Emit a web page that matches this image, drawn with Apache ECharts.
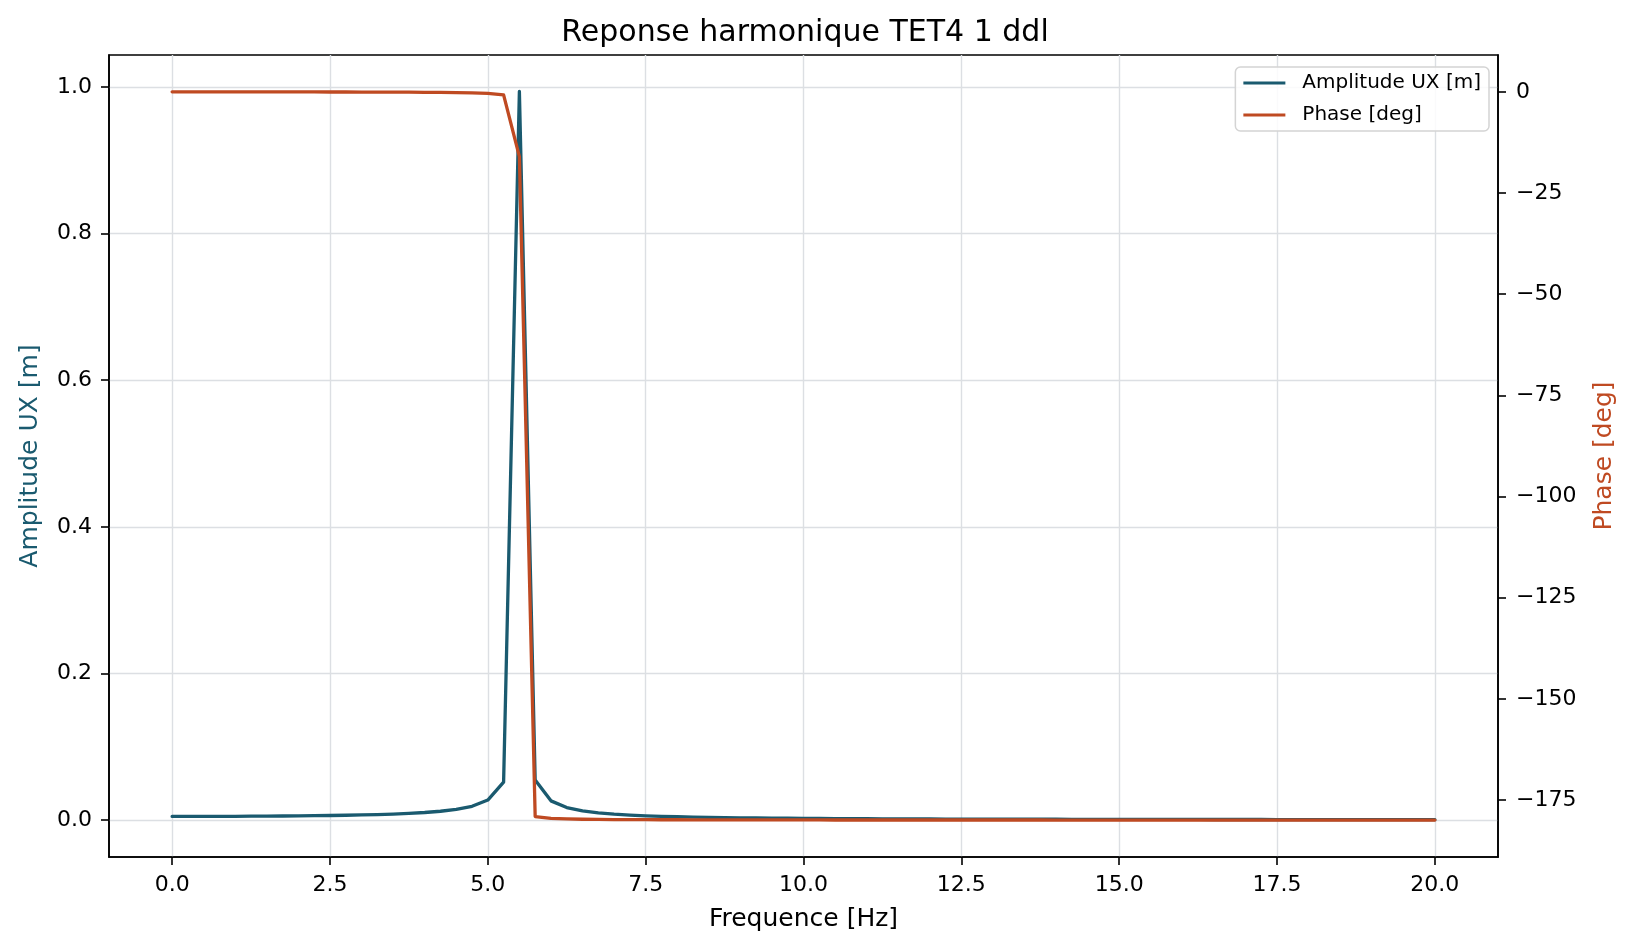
<!DOCTYPE html>
<html>
<head>
<meta charset="utf-8">
<script src="https://cdn.jsdelivr.net/npm/echarts@6/dist/echarts.min.js"></script>
<style>
  body, html {
    margin: 0;
    padding: 0;
    background: #ffffff;
  }
  #chart {
    width: 1636px;
    height: 949px;
  }
</style>
</head>
<body>
<div id="chart"></div>
<script type="text/javascript">
  // frequences [Hz]
  const freq = [
    0, 0.25, 0.5, 0.75, 1, 1.25, 1.5, 1.75, 2, 2.25, 2.5, 2.75, 3, 3.25, 3.5, 3.75,
    4, 4.25, 4.5, 4.75, 5, 5.25, 5.5, 5.75, 6, 6.25, 6.5, 6.75, 7, 7.25, 7.5, 7.75,
    8, 8.25, 8.5, 8.75, 9, 9.25, 9.5, 9.75, 10, 10.25, 10.5, 10.75, 11, 11.25, 11.5, 11.75,
    12, 12.25, 12.5, 12.75, 13, 13.25, 13.5, 13.75, 14, 14.25, 14.5, 14.75, 15, 15.25, 15.5, 15.75,
    16, 16.25, 16.5, 16.75, 17, 17.25, 17.5, 17.75, 18, 18.25, 18.5, 18.75, 19, 19.25, 19.5, 19.75, 20
  ];

  // amplitude UX [m]
  const amplitude = [
    0.0048, 0.00481, 0.00484, 0.00489, 0.00496, 0.00506, 0.00518, 0.00534, 0.00553, 0.00576,
    0.00604, 0.00639, 0.00682, 0.00736, 0.00804, 0.00893, 0.01014, 0.01183, 0.01439, 0.01864,
    0.02707, 0.0516, 0.994, 0.0546, 0.026, 0.01681, 0.0123, 0.00961, 0.00784, 0.00658,
    0.00564, 0.00492, 0.00434, 0.00387, 0.00348, 0.00316, 0.00288, 0.00264, 0.00244, 0.00226,
    0.0021, 0.00196, 0.00183, 0.00172, 0.00161, 0.00152, 0.00143, 0.00135, 0.00128, 0.00122,
    0.00116, 0.0011, 0.00105, 0.001, 0.00096, 0.00092, 0.00088, 0.00084, 0.00081, 0.00078,
    0.00075, 0.00072, 0.0007, 0.00067, 0.00065, 0.00062, 0.0006, 0.00058, 0.00056, 0.00054,
    0.00053, 0.00051, 0.0005, 0.00048, 0.00047, 0.00045, 0.00044, 0.00043, 0.00042, 0.00041,
    0.00039
  ];

  // phase [deg]
  const phase = [
    0, -0.003, -0.007, -0.01, -0.014, -0.018, -0.022, -0.027, -0.031, -0.037,
    -0.043, -0.05, -0.058, -0.068, -0.08, -0.095, -0.115, -0.143, -0.184, -0.252,
    -0.385, -0.77, -16.0, -179.11, -179.56, -179.7, -179.77, -179.82, -179.84, -179.86,
    -179.88, -179.89, -179.9, -179.91, -179.92, -179.92, -179.93, -179.93, -179.93, -179.94,
    -179.94, -179.94, -179.95, -179.95, -179.95, -179.95, -179.95, -179.96, -179.96, -179.96,
    -179.96, -179.96, -179.96, -179.96, -179.96, -179.96, -179.97, -179.97, -179.97, -179.97,
    -179.97, -179.97, -179.97, -179.97, -179.97, -179.97, -179.97, -179.97, -179.97, -179.97,
    -179.97, -179.98, -179.98, -179.98, -179.98, -179.98, -179.98, -179.98, -179.98, -179.98,
    -179.98
  ];

  const freqTicks = [0, 2.5, 5, 7.5, 10, 12.5, 15, 17.5, 20];
  const ampTicks = [0, 0.2, 0.4, 0.6, 0.8, 1.0];
  const phaseTicks = [0, -25, -50, -75, -100, -125, -150, -175];

  const AMP_COLOR = "#1a5a6f";
  const PHASE_COLOR = "#bf4a22";
  const FONT = "DejaVu Sans";

  let chart = echarts.init(document.getElementById("chart"), null, { renderer: "canvas" });

  const tickStyle = { show: true, inside: false, length: 8, lineStyle: { color: "#000", width: 1.6 } };
  const gridLine = { show: true, lineStyle: { color: "#dcdfe3", width: 1.4 } };

  let option = {
    animation: false,
    backgroundColor: "#ffffff",
    textStyle: { fontFamily: FONT },
    title: {
      text: "Reponse harmonique TET4 1 ddl",
      left: 805,
      top: 18,
      textAlign: "center",
      padding: 0,
      textStyle: { fontFamily: FONT, fontSize: 30, fontWeight: "normal", color: "#000" },
    },
    legend: {
      orient: "vertical",
      right: 147,
      top: 67,
      padding: [6, 8],
      itemWidth: 42,
      itemHeight: 3,
      itemGap: 12,
      icon: "rect",
      backgroundColor: "rgba(255,255,255,0.85)",
      borderColor: "#d4d4d4",
      borderWidth: 1.5,
      borderRadius: 5,
      textStyle: { fontFamily: FONT, fontSize: 20, color: "#000", padding: [0, 0, 0, 12] },
      data: ["Amplitude UX [m]", "Phase [deg]"],
    },
    grid: {
      left: 109,
      right: 138,
      top: 55,
      bottom: 92,
      show: true,
      borderColor: "#000",
      borderWidth: 1.6,
      containLabel: false,
    },
    xAxis: {
      type: "value",
      min: -1,
      max: 21,
      minInterval: 2.5,
      maxInterval: 2.5,
      name: "Frequence [Hz]",
      nameLocation: "middle",
      nameGap: 50,
      nameTextStyle: { fontFamily: FONT, fontSize: 25, color: "#000" },
      axisLine: { show: true, onZero: false, lineStyle: { color: "#000", width: 1.6 } },
      axisTick: Object.assign({ customValues: freqTicks }, tickStyle),
      axisLabel: {
        customValues: freqTicks,
        margin: 17,
        fontFamily: FONT,
        fontSize: 22,
        color: "#000",
        formatter: (v) => v.toFixed(1),
      },
      splitLine: gridLine,
    },
    yAxis: [
      {
        type: "value",
        position: "left",
        min: -0.0506,
        max: 1.0438,
        minInterval: 0.2,
        maxInterval: 0.2,
        name: "Amplitude UX [m]",
        nameLocation: "middle",
        nameRotate: 90,
        nameGap: 66,
        nameTextStyle: { fontFamily: FONT, fontSize: 25, color: AMP_COLOR },
        axisLine: { show: true, onZero: false, lineStyle: { color: "#000", width: 1.6 } },
        axisTick: Object.assign({ customValues: ampTicks }, tickStyle),
        axisLabel: {
          customValues: ampTicks,
          margin: 17,
          fontFamily: FONT,
          fontSize: 22,
          color: "#000",
          formatter: (v) => v.toFixed(1),
        },
        splitLine: gridLine,
      },
      {
        type: "value",
        position: "right",
        min: -189.1,
        max: 9.1,
        minInterval: 25,
        maxInterval: 25,
        name: "Phase [deg]",
        nameLocation: "middle",
        nameRotate: 90,
        nameGap: 94,
        nameTextStyle: { fontFamily: FONT, fontSize: 25, color: PHASE_COLOR },
        axisLine: { show: true, onZero: false, lineStyle: { color: "#000", width: 1.6 } },
        axisTick: Object.assign({ customValues: phaseTicks }, tickStyle),
        axisLabel: {
          customValues: phaseTicks,
          margin: 18,
          fontFamily: FONT,
          fontSize: 22,
          color: "#000",
          formatter: (v) => String(Math.round(v)).replace("-", "\u2212"),
        },
        splitLine: { show: false },
      },
    ],
    series: [
      {
        name: "Amplitude UX [m]",
        type: "line",
        yAxisIndex: 0,
        showSymbol: false,
        symbol: "none",
        z: 2,
        lineStyle: { color: AMP_COLOR, width: 3.3, cap: "round", join: "round" },
        itemStyle: { color: AMP_COLOR },
        data: freq.map((f, i) => [f, amplitude[i]]),
      },
      {
        name: "Phase [deg]",
        type: "line",
        yAxisIndex: 1,
        showSymbol: false,
        symbol: "none",
        z: 3,
        lineStyle: { color: PHASE_COLOR, width: 3.3, cap: "round", join: "round" },
        itemStyle: { color: PHASE_COLOR },
        data: freq.map((f, i) => [f, phase[i]]),
      },
    ],
  };
  chart.setOption(option);
</script>
</body>
</html>
